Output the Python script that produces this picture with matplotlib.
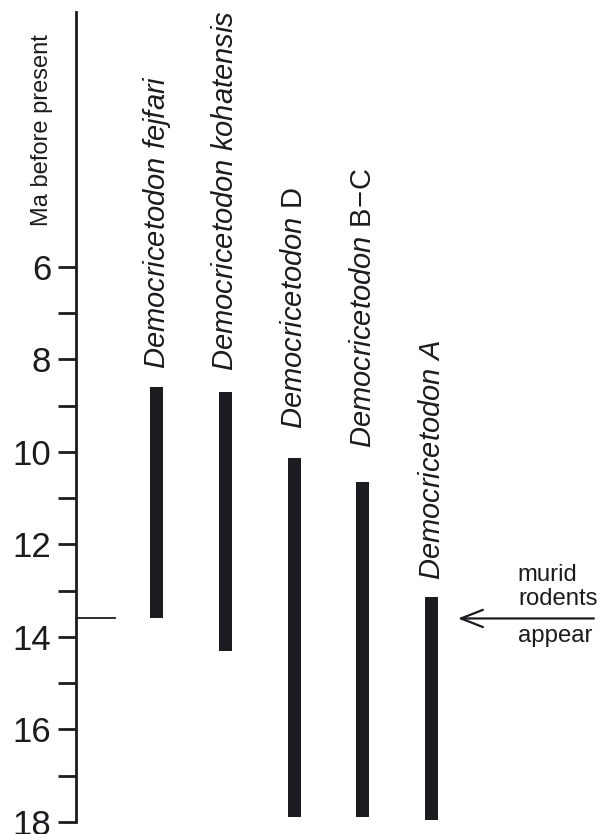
import matplotlib
matplotlib.use("Agg")
import matplotlib.pyplot as plt
from matplotlib.ticker import MultipleLocator

plt.rcParams['font.family'] = ['Liberation Sans', 'DejaVu Sans']
plt.rcParams['mathtext.fontset'] = 'custom'
plt.rcParams['mathtext.rm'] = 'Liberation Sans'
plt.rcParams['mathtext.it'] = 'Liberation Sans:italic'

# Data
species = [r"$\mathit{Democricetodon\ fejfari}$",
           r"$\mathit{Democricetodon\ kohatensis}$",
           r"$\mathit{Democricetodon}\ \mathrm{D}$",
           r"$\mathit{Democricetodon}\ \mathrm{B\!-\!C}$",
           r"$\mathit{Democricetodon\ A}$"]
positions = [1, 2, 3, 4, 5]
range_young = [8.60, 8.71, 10.14, 10.64, 13.14]   # Ma (top of bar)
range_old = [13.60, 14.30, 17.89, 17.89, 17.95]   # Ma (bottom of bar)
label_start = [8.20, 8.24, 9.50, 9.92, 12.76]     # Ma where label begins
murid_age = 13.6
major_ticks = [6, 8, 10, 12, 14, 16, 18]

bar_color = '#1c1b20'

fig = plt.figure(figsize=(6.09, 8.34), dpi=100)
ax = fig.add_axes([76/609, 12/834, 1 - 76/609, 810/834])

heights = [o - y for y, o in zip(range_young, range_old)]
ax.bar(positions, heights, bottom=range_young, width=0.19, color=bar_color, linewidth=0)

for x, lab, ys in zip(positions, species, label_start):
    ax.text(x + 8/68.75, ys, lab, rotation=90, rotation_mode='anchor',
            ha='left', va='baseline', fontsize=21, color='#1c1b20')

ax.set_xlim(-0.175, 7.58)
ax.set_ylim(18, 0.49)

for s in ['top', 'right', 'bottom']:
    ax.spines[s].set_visible(False)
ax.spines['left'].set_linewidth(2.0)
ax.spines['left'].set_color('#1c1b20')
ax.set_xticks([])
ax.set_yticks(major_ticks)
ax.set_yticklabels([str(t) for t in major_ticks])
ax.yaxis.set_minor_locator(MultipleLocator(1))
ax.set_yticks([7, 9, 11, 13, 15, 17], minor=True)
ax.tick_params(axis='y', which='both', direction='out', length=13, width=2.0,
               color='#1c1b20', labelsize=25, pad=5, labelcolor='#1c1b20')
ax.patch.set_alpha(0)

# Ma before present
ax.text(-0.175 - 34/68.75, 3.04, "Ma before present", rotation=90,
        ha='center', va='center', fontsize=17, color='#1c1b20')

# murid rodents appear
ax.plot([-0.175, (115 - 88)/68.75], [murid_age, murid_age], color='#1c1b20',
        lw=1.3, clip_on=False)
ax.annotate("", xy=((458 - 88)/68.75, murid_age), xytext=((594 - 88)/68.75, murid_age),
            arrowprops=dict(arrowstyle="->,head_length=0.79,head_width=0.31",
                            mutation_scale=20, lw=1.6, color='#1c1b20',
                            shrinkA=0, shrinkB=0))
ax.text((518 - 88)/68.75, murid_age - 0.29, "murid\nrodents", ha='left', va='baseline',
        fontsize=17.2, linespacing=1.1, color='#1c1b20')
ax.text((518 - 88)/68.75, murid_age + 0.51, "appear", ha='left', va='baseline',
        fontsize=17.2, color='#1c1b20')

fig.savefig("out.png", dpi=100)
